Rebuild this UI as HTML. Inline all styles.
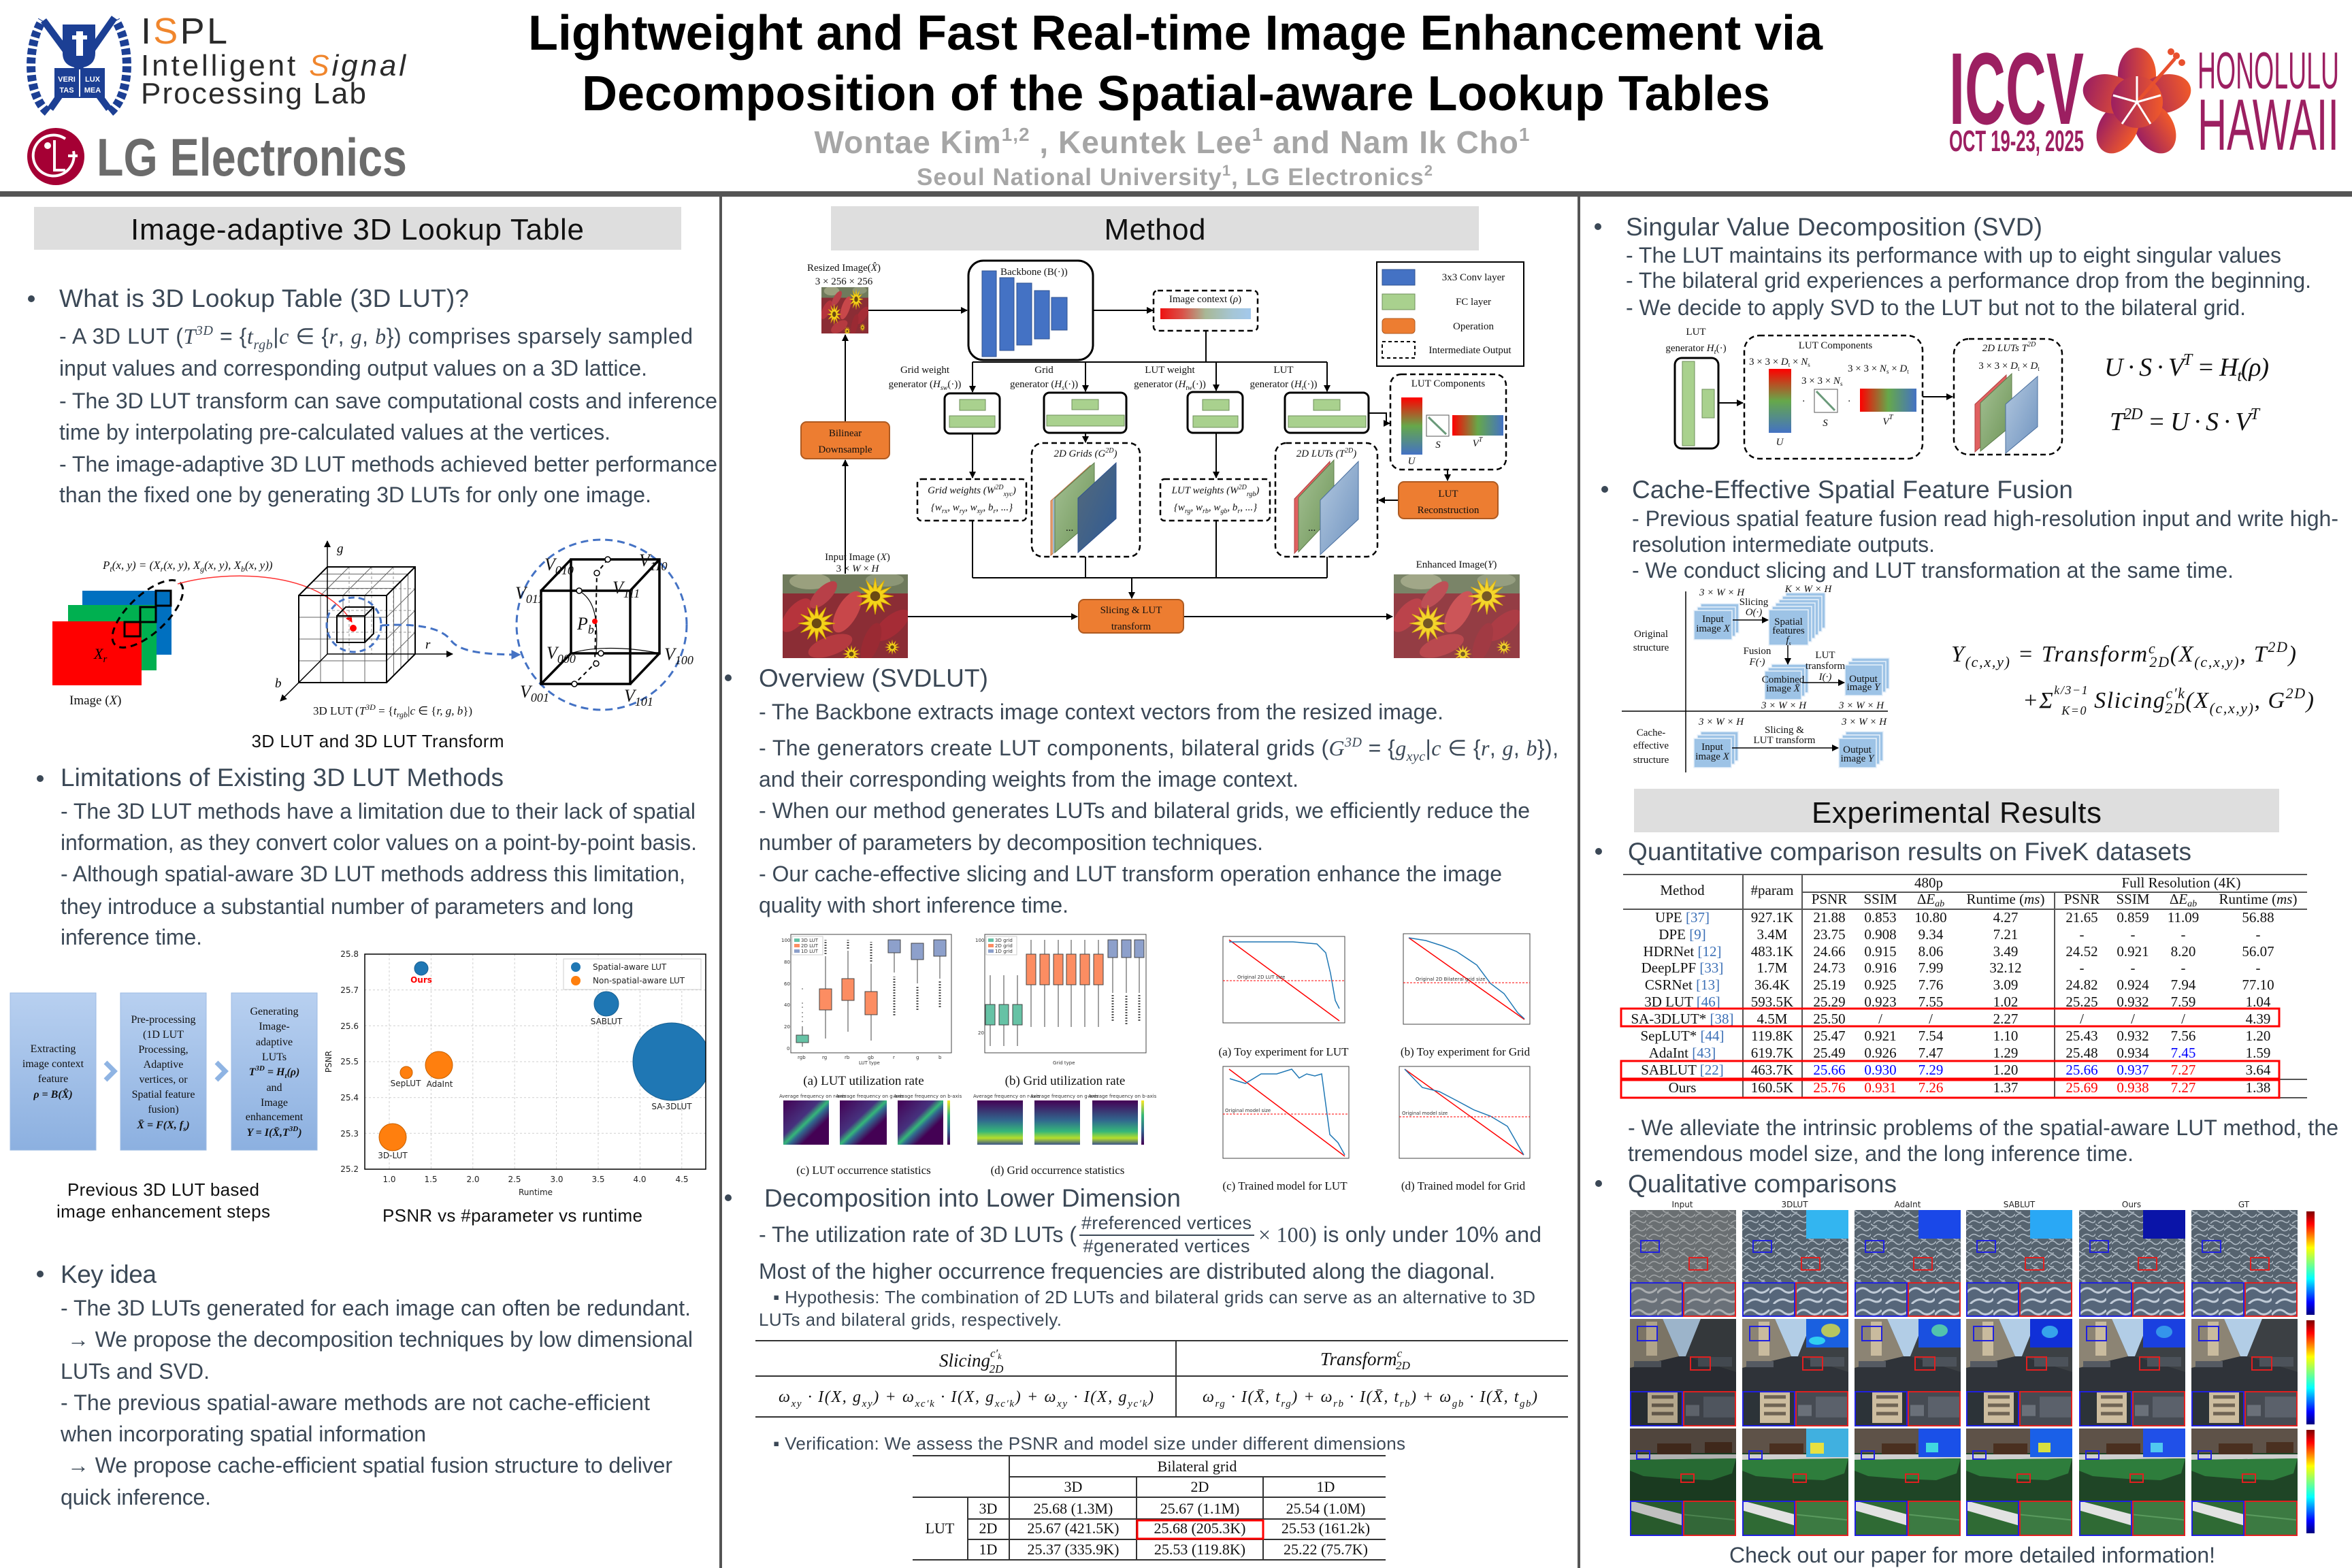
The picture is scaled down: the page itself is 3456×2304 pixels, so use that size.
<!DOCTYPE html>
<html><head><meta charset="utf-8"><title>SVDLUT Poster</title>
<style>
html,body{margin:0;padding:0;background:#fff;}
svg{display:block;font-family:"Liberation Sans",Arial,sans-serif;}
.s{font-family:"Liberation Serif","Times New Roman",serif;}
.m{font-family:"Liberation Serif","Times New Roman",serif;font-style:italic;}
.b{fill:#3b4856;font-size:32px;}
.h{fill:#3b4856;font-size:37px;}
.cap{font-size:26px;fill:#111;}
.d{font-family:"Liberation Serif","Times New Roman",serif;font-size:15px;fill:#111;}
.t{font-family:"Liberation Serif","Times New Roman",serif;font-size:21px;fill:#111;}
.tb{font-family:"Liberation Serif","Times New Roman",serif;font-size:22px;fill:#111;}
.k{font-family:"DejaVu Sans",sans-serif;font-size:12px;fill:#222;}
.tiny{font-family:"DejaVu Sans",sans-serif;font-size:7px;fill:#333;}
</style></head><body>
<svg width="3456" height="2304" viewBox="0 0 3456 2304" xmlns="http://www.w3.org/2000/svg" xmlns:xlink="http://www.w3.org/1999/xlink">
<defs>
<marker id="a" viewBox="0 0 10 10" refX="9" refY="5" markerWidth="10" markerHeight="10" markerUnits="userSpaceOnUse" orient="auto"><path d="M0,0L10,5L0,10z" fill="#000"/></marker>
<marker id="ab" viewBox="0 0 10 10" refX="9" refY="5" markerWidth="14" markerHeight="14" markerUnits="userSpaceOnUse" orient="auto"><path d="M0,0L10,5L0,10z" fill="#4472c4"/></marker>
<marker id="ar" viewBox="0 0 10 10" refX="9" refY="5" markerWidth="10" markerHeight="10" markerUnits="userSpaceOnUse" orient="auto"><path d="M0,0L10,5L0,10z" fill="#f00"/></marker>
<linearGradient id="gbox" x1="0" y1="0" x2="0" y2="1"><stop offset="0" stop-color="#b8d0f0"/><stop offset="1" stop-color="#8cb0e0"/></linearGradient>
<linearGradient id="gctx" x1="0" x2="1"><stop offset="0" stop-color="#ee1111"/><stop offset=".25" stop-color="#d9544a"/><stop offset=".5" stop-color="#a8b896"/><stop offset=".8" stop-color="#a5c6d6"/><stop offset="1" stop-color="#a3c8ec"/></linearGradient>
<linearGradient id="gu" x1="0" y1="0" x2="0" y2="1"><stop offset="0" stop-color="#ff0000"/><stop offset=".5" stop-color="#66a84a"/><stop offset="1" stop-color="#4472c4"/></linearGradient>
<linearGradient id="gv" x1="0" x2="1"><stop offset="0" stop-color="#ff0000"/><stop offset=".5" stop-color="#66a84a"/><stop offset="1" stop-color="#4472c4"/></linearGradient>
<linearGradient id="jet" x1="0" y1="0" x2="0" y2="1"><stop offset="0" stop-color="#7f0000"/><stop offset=".12" stop-color="#ff0000"/><stop offset=".35" stop-color="#ffff00"/><stop offset=".5" stop-color="#7fff7f"/><stop offset=".65" stop-color="#00ffff"/><stop offset=".88" stop-color="#0000ff"/><stop offset="1" stop-color="#00007f"/></linearGradient>
<linearGradient id="hib" x1="0" x2="1"><stop offset="0" stop-color="#9c1f61"/><stop offset="1" stop-color="#f15a29"/></linearGradient>
<linearGradient id="hc" x1="0" y1="0" x2="1" y2="1"><stop offset="0" stop-color="#440154"/><stop offset=".4" stop-color="#46327e"/><stop offset=".5" stop-color="#35b779"/><stop offset=".56" stop-color="#31688e"/><stop offset=".7" stop-color="#440154"/><stop offset="1" stop-color="#440154"/></linearGradient>
<linearGradient id="hd" x1="0" y1="0" x2="0" y2="1"><stop offset="0" stop-color="#440154"/><stop offset=".45" stop-color="#31688e"/><stop offset=".7" stop-color="#35b779"/><stop offset=".85" stop-color="#b5de2b"/><stop offset="1" stop-color="#3b528b"/></linearGradient>
<linearGradient id="vir" x1="0" y1="1" x2="0" y2="0"><stop offset="0" stop-color="#440154"/><stop offset=".33" stop-color="#31688e"/><stop offset=".66" stop-color="#35b779"/><stop offset="1" stop-color="#fde725"/></linearGradient>
<linearGradient id="pgr" x1="0" y1="0" x2="1" y2="1"><stop offset="0" stop-color="#a6c296"/><stop offset="1" stop-color="#6d9456"/></linearGradient>
<linearGradient id="pbl" x1="0" y1="0" x2="1" y2="1"><stop offset="0" stop-color="#b4c9e0"/><stop offset="1" stop-color="#6f93bf"/></linearGradient>
<linearGradient id="pdk" x1="0" y1="0" x2="1" y2="1"><stop offset="0" stop-color="#566a7a"/><stop offset="1" stop-color="#2d5a96"/></linearGradient>
<pattern id="wp" width="24" height="20" patternUnits="userSpaceOnUse"><rect width="24" height="20" fill="#56636f"/><path d="M0 10Q6 2 12 8T24 6M4 20Q10 13 16 17T24 15M0 0Q4 5 9 3" stroke="#c2ccd6" stroke-width="1.6" fill="none" opacity=".8"/></pattern>
<pattern id="wp2" width="40" height="32" patternUnits="userSpaceOnUse"><rect width="40" height="32" fill="#56667a"/><path d="M0 16Q10 4 20 12T40 9M6 32Q16 22 26 27T40 24" stroke="#d3dce6" stroke-width="3" fill="none" opacity=".85"/></pattern>
<symbol id="star" viewBox="-27 -27 54 54"><polygon points="26,0 10.6,2.8 22.5,13 7.8,7.8 13,22.5 2.8,10.6 0,26 -2.8,10.6 -13,22.5 -7.8,7.8 -22.5,13 -10.6,2.8 -26,0 -10.6,-2.8 -22.5,-13 -7.8,-7.8 -13,-22.5 -2.8,-10.6 0,-26 2.8,-10.6 13,-22.5 7.8,-7.8 22.5,-13 10.6,-2.8" fill="#f4d31a" stroke="#d9a800" stroke-width=".8"/><circle r="7" fill="#6b4a12"/></symbol>
<symbol id="flw" viewBox="0 0 184 123" preserveAspectRatio="none">
<rect width="184" height="123" fill="#8b2d35"/>
<rect width="184" height="28" fill="#6f7a5c"/>
<ellipse cx="40" cy="10" rx="30" ry="12" fill="#9aa07e"/><ellipse cx="150" cy="8" rx="28" ry="10" fill="#8c9676"/>
<ellipse cx="20" cy="60" rx="30" ry="14" transform="rotate(-50 20 60)" fill="#b6343c"/>
<ellipse cx="95" cy="55" rx="34" ry="15" transform="rotate(-60 95 55)" fill="#c8474a"/>
<ellipse cx="160" cy="75" rx="32" ry="14" transform="rotate(-40 160 75)" fill="#a52c36"/>
<ellipse cx="70" cy="105" rx="34" ry="14" transform="rotate(-20 70 105)" fill="#b53a40"/>
<ellipse cx="130" cy="100" rx="30" ry="12" transform="rotate(-70 130 100)" fill="#9a2a33"/>
<ellipse cx="60" cy="30" rx="26" ry="11" transform="rotate(-45 60 30)" fill="#b84048"/>
<use href="#star" x="22" y="44" width="56" height="56"/>
<use href="#star" x="108" y="4" width="56" height="56"/>
<use href="#star" x="88" y="104" width="26" height="26"/>
<use href="#star" x="150" y="96" width="22" height="22"/>
</symbol>
<symbol id="wm" viewBox="0 0 156 106" preserveAspectRatio="none"><rect width="156" height="106" fill="url(#wp)"/></symbol>
<symbol id="wc" viewBox="0 0 78 51" preserveAspectRatio="none"><rect width="78" height="51" fill="url(#wp2)"/></symbol>
<symbol id="sm" viewBox="0 0 156 106" preserveAspectRatio="none">
<rect width="156" height="106" fill="#33373d"/>
<polygon points="48,0 104,0 82,55 72,55" fill="#b2cde6"/>
<polygon points="0,0 48,0 72,55 0,72" fill="#8c8474"/>
<rect x="24" y="4" width="16" height="50" fill="#c9bb9e"/>
<polygon points="104,0 156,0 156,78 82,55" fill="#3c4044"/>
<polygon points="0,72 72,55 82,55 156,78 156,106 0,106" fill="#2f3339"/>
<rect x="100" y="56" width="50" height="14" fill="#4c525a"/><rect x="6" y="62" width="40" height="9" fill="#555a62"/>
</symbol>
<symbol id="sc1" viewBox="0 0 78 51" preserveAspectRatio="none"><rect width="78" height="51" fill="#2c3338"/><rect x="26" y="0" width="44" height="46" fill="#cdbd9f"/><rect x="32" y="6" width="32" height="5" fill="#6f6454"/><rect x="32" y="18" width="32" height="5" fill="#6f6454"/><rect x="32" y="30" width="32" height="5" fill="#6f6454"/></symbol>
<symbol id="sc2" viewBox="0 0 78 51" preserveAspectRatio="none"><rect width="78" height="51" fill="#464b53"/><rect x="30" y="8" width="46" height="30" fill="#5b616b"/><rect x="4" y="20" width="20" height="16" fill="#6a7079"/></symbol>
<symbol id="bm" viewBox="0 0 156 106" preserveAspectRatio="none">
<rect width="156" height="106" fill="#1f4526"/>
<rect width="156" height="36" fill="#5e5248"/>
<rect x="40" y="22" width="50" height="18" fill="#4a3020"/><rect x="110" y="20" width="40" height="16" fill="#4a3020"/>
<polygon points="0,38 156,38 156,44 0,46" fill="#cfcfcf"/>
<polygon points="0,46 156,44 150,66 120,76 70,74 20,70 0,62" fill="#2e7d3c"/>
</symbol>
<symbol id="bc1" viewBox="0 0 78 51" preserveAspectRatio="none"><rect width="78" height="51" fill="#2f6a34"/><polygon points="0,0 78,20 78,36 0,14" fill="#e2e2e2"/></symbol>
<symbol id="bc2" viewBox="0 0 78 51" preserveAspectRatio="none"><rect width="78" height="51" fill="#3c7a42"/><path d="M0 20L78 28" stroke="#5a9a5e" stroke-width="2"/></symbol>
</defs>

<rect width="3456" height="2304" fill="#fff"/>

<!-- ============ HEADER ============ -->
<g>
 <path d="M70 165 C40 140 38 70 62 30" stroke="#1c3f94" stroke-width="13" fill="none" stroke-dasharray="9 4"/>
 <path d="M162 165 C192 140 194 70 170 30" stroke="#1c3f94" stroke-width="13" fill="none" stroke-dasharray="9 4"/>
 <line x1="64" y1="30" x2="160" y2="160" stroke="#1c3f94" stroke-width="10"/>
 <line x1="168" y1="26" x2="74" y2="160" stroke="#1c3f94" stroke-width="10"/>
 <path d="M92 36 H140 V78 Q140 98 116 100 Q92 98 92 78Z" fill="#1c3f94"/>
 <path d="M112 46 H122 V82 H112Z M106 52 H128 V58 H106Z" fill="#fff"/>
 <rect x="80" y="100" width="74" height="44" fill="#1c3f94"/>
 <text x="98" y="120" font-size="11" fill="#fff" text-anchor="middle" font-weight="bold">VERI</text>
 <text x="136" y="120" font-size="11" fill="#fff" text-anchor="middle" font-weight="bold">LUX</text>
 <text x="98" y="136" font-size="11" fill="#fff" text-anchor="middle" font-weight="bold">TAS</text>
 <text x="136" y="136" font-size="11" fill="#fff" text-anchor="middle" font-weight="bold">MEA</text>
 <line x1="117" y1="102" x2="117" y2="142" stroke="#fff" stroke-width="2"/>
</g>
<text x="207" y="64" font-size="54" textLength="127"><tspan fill="#2b2b2b">I</tspan><tspan fill="#f0862d">S</tspan><tspan fill="#2b2b2b">PL</tspan></text>
<text x="207" y="111" font-size="44" fill="#2b2b2b" textLength="389">Intelligent <tspan fill="#f0862d" font-style="italic">S</tspan><tspan font-style="italic">ignal</tspan></text>
<text x="207" y="152" font-size="44" fill="#2b2b2b" textLength="331">Processing Lab</text>
<circle cx="82" cy="230" r="42" fill="#a50034"/>
<path d="M108 222 A30 30 0 1 1 96 204" stroke="#fff" stroke-width="4" fill="none"/>
<circle cx="70" cy="214" r="5" fill="#fff"/>
<path d="M80 206 V250 H96" stroke="#fff" stroke-width="4" fill="none"/>
<line x1="100" y1="229" x2="114" y2="229" stroke="#fff" stroke-width="4"/>
<text x="142" y="258" font-size="78" font-weight="bold" fill="#6b6b6b" textLength="456" lengthAdjust="spacingAndGlyphs">LG Electronics</text>

<text x="1727" y="73" font-size="72" font-weight="bold" fill="#000" text-anchor="middle" textLength="1902">Lightweight and Fast Real-time Image Enhancement via</text>
<text x="1728" y="162" font-size="72" font-weight="bold" fill="#000" text-anchor="middle" textLength="1746">Decomposition of the Spatial-aware Lookup Tables</text>
<text x="1722" y="225" font-size="46" font-weight="bold" fill="#a6a6a6" text-anchor="middle" textLength="1051">Wontae Kim<tspan font-size="28" dy="-18">1,2</tspan><tspan dy="18"> , Keuntek Lee</tspan><tspan font-size="28" dy="-18">1</tspan><tspan dy="18"> and Nam Ik Cho</tspan><tspan font-size="28" dy="-18">1</tspan></text>
<text x="1726" y="272" font-size="35" font-weight="bold" fill="#a6a6a6" text-anchor="middle" textLength="758">Seoul National University<tspan font-size="22" dy="-14">1</tspan><tspan dy="14">, LG Electronics</tspan><tspan font-size="22" dy="-14">2</tspan></text>

<text x="2864" y="182" font-size="150" font-weight="bold" fill="#9c1f61" textLength="198" lengthAdjust="spacingAndGlyphs">ICCV</text>
<text x="2864" y="222" font-size="44" font-weight="bold" fill="#9c1f61" textLength="198" lengthAdjust="spacingAndGlyphs">OCT 19-23, 2025</text>
<text x="3229" y="130" font-size="76" fill="#9c1f61" textLength="208" lengthAdjust="spacingAndGlyphs">HONOLULU</text>
<text x="3229" y="220" font-size="107" fill="#9c1f61" textLength="208" lengthAdjust="spacingAndGlyphs">HAWAII</text>
<g fill="url(#hib)">
 <ellipse cx="3140" cy="110" rx="28" ry="40"/>
 <ellipse cx="3180" cy="138" rx="40" ry="28" transform="rotate(-15 3180 138)"/>
 <ellipse cx="3166" cy="188" rx="28" ry="40" transform="rotate(-30 3166 188)"/>
 <ellipse cx="3112" cy="188" rx="28" ry="40" transform="rotate(30 3112 188)"/>
 <ellipse cx="3100" cy="138" rx="40" ry="28" transform="rotate(15 3100 138)"/>
 <circle cx="3140" cy="150" r="38"/>
</g>
<path d="M3140 150 L3196 86" stroke="#e8502e" stroke-width="5"/>
<circle cx="3198" cy="82" r="5" fill="#e8502e"/><circle cx="3206" cy="92" r="5" fill="#e8502e"/><circle cx="3190" cy="76" r="5" fill="#e8502e"/>
<path d="M3140 150 L3140 112 M3140 150 L3175 140 M3140 150 L3160 182 M3140 150 L3118 182 M3140 150 L3105 140" stroke="#fff" stroke-width="3" fill="none"/>

<rect x="0" y="281" width="3456" height="8" fill="#555"/>
<rect x="1057" y="289" width="4" height="2015" fill="#555"/>
<rect x="2318" y="289" width="4" height="2015" fill="#555"/>

<!-- ============ LEFT COLUMN ============ -->
<rect x="50" y="304" width="951" height="63" fill="#dedede"/>
<text x="525" y="352" font-size="44" fill="#111" text-anchor="middle" textLength="666">Image-adaptive 3D Lookup Table</text>

<circle cx="46" cy="439" r="5" fill="#3b4856"/>
<text class="h" x="87" y="451" textLength="602">What is 3D Lookup Table (3D LUT)?</text>
<text class="b" x="87" y="505" textLength="931">- A 3D LUT (<tspan class="m">T</tspan><tspan class="m" font-size="20" dy="-13">3D</tspan><tspan dy="13"> = {</tspan><tspan class="m">t</tspan><tspan class="m" font-size="20" dy="8">rgb</tspan><tspan dy="-8">|</tspan><tspan class="m">c</tspan> ∈ {<tspan class="m">r</tspan>, <tspan class="m">g</tspan>, <tspan class="m">b</tspan>}) comprises sparsely sampled</text>
<text class="b" x="87" y="552" textLength="864">input values and corresponding output values on a 3D lattice.</text>
<text class="b" x="87" y="600" textLength="967">- The 3D LUT transform can save computational costs and inference</text>
<text class="b" x="87" y="646" textLength="810">time by interpolating pre-calculated values at the vertices.</text>
<text class="b" x="87" y="693" textLength="967">- The image-adaptive 3D LUT methods achieved better performance</text>
<text class="b" x="87" y="738" textLength="870">than the fixed one by generating 3D LUTs for only one image.</text>

<!-- 3D LUT figure -->
<rect x="121" y="868" width="131" height="94" fill="#0070c0"/>
<rect x="100" y="889" width="130" height="96" fill="#00b050"/>
<rect x="77" y="913" width="131" height="94" fill="#ff0000"/>
<g fill="none" stroke="#000" stroke-width="3"><rect x="183" y="914" width="23" height="21"/><rect x="206" y="892" width="23" height="22"/><rect x="229" y="868" width="22" height="22"/></g>
<ellipse cx="217" cy="902" rx="66" ry="28" transform="rotate(-43 217 902)" fill="none" stroke="#000" stroke-width="3" stroke-dasharray="10 7"/>
<text class="m" x="138" y="968" font-size="22">X<tspan font-size="15" dy="5">r</tspan></text>
<text class="s" x="102" y="1035" font-size="19" fill="#111">Image (<tspan class="m">X</tspan>)</text>
<text class="m" x="151" y="836" font-size="17" fill="#111">P<tspan font-size="12" dy="4">t</tspan><tspan dy="-4">(x, y) = (X</tspan><tspan font-size="12" dy="4">r</tspan><tspan dy="-4">(x, y), X</tspan><tspan font-size="12" dy="4">g</tspan><tspan dy="-4">(x, y), X</tspan><tspan font-size="12" dy="4">b</tspan><tspan dy="-4">(x, y))</tspan></text>
<path d="M261 858 C330 838 470 836 517 914" stroke="#f33" stroke-width="1.5" fill="none" marker-end="url(#ar)"/>
<!-- grid cube -->
<g stroke="#999" stroke-width="1" fill="none" stroke-dasharray="4 3">
 <path d="M513 833V961M546 833V961M578 833V961M481 865H610M481 897H610M481 929H610"/>
</g>
<g stroke="#666" stroke-width="1" fill="none">
 <path d="M471 875V1003M504 875V1003M536 875V1003M439 907H568M439 939H568M439 971H568"/>
 <path d="M471 875L513 833M504 875L546 833M536 875L578 833M449.5 864.5H578.5M460 854H589M470.5 843.5H599.5"/>
 <path d="M568 907L610 865M568 939L610 897M568 971L610 929M578.5 864.5V992.5M589 854V982M599.5 843.5V971.5"/>
</g>
<g stroke="#000" stroke-width="2" fill="none">
 <rect x="439" y="875" width="129" height="128"/>
 <path d="M439 875L481 833H610V961L568 1003M568 875L610 833"/>
 <rect x="495" y="905" width="41" height="39"/>
 <path d="M495 905L508 892H549V931L536 944M536 905L549 892"/>
</g>
<line x1="481" y1="961" x2="481" y2="795" stroke="#000" stroke-width="1.5" marker-end="url(#a)"/>
<line x1="481" y1="961" x2="665" y2="961" stroke="#000" stroke-width="1.5" marker-end="url(#a)"/>
<line x1="481" y1="961" x2="412" y2="1030" stroke="#000" stroke-width="1.5" marker-end="url(#a)"/>
<text class="m" x="495" y="812" font-size="19">g</text>
<text class="m" x="625" y="953" font-size="19">r</text>
<text class="m" x="404" y="1010" font-size="19">b</text>
<circle cx="519" cy="923" r="5" fill="#f00"/>
<circle cx="520" cy="918" r="40" fill="none" stroke="#4472c4" stroke-width="3" stroke-dasharray="9 6"/>
<path d="M561 919 C620 915 650 925 662 940 C672 955 700 962 764 962" stroke="#4472c4" stroke-width="3" fill="none" stroke-dasharray="11 7" marker-end="url(#ab)"/>
<circle cx="884" cy="918" r="125" fill="none" stroke="#4472c4" stroke-width="3" stroke-dasharray="11 7"/>
<g stroke="#000" stroke-width="3.5" fill="none">
 <rect x="795" y="868" width="131" height="137"/>
 <rect x="839" y="822" width="130" height="138"/>
 <path d="M795 868L839 822M926 868L969 822M795 1005L839 960M926 1005L969 960"/>
</g>
<path d="M893 822L877 842L874 975L844 1005" stroke="#000" stroke-width="2" fill="none" stroke-dasharray="6 5"/>
<path d="M851 868 C870 880 880 900 876 960" stroke="#000" stroke-width="1.2" fill="none"/>
<path d="M839 960 C870 950 920 950 969 960" stroke="#000" stroke-width="1.2" fill="none"/>
<g fill="#fff" stroke="#000" stroke-width="1.5"><circle cx="893" cy="822" r="4"/><circle cx="851" cy="868" r="4"/><circle cx="877" cy="842" r="4"/><circle cx="883" cy="960" r="4"/><circle cx="876" cy="975" r="4"/><circle cx="844" cy="1005" r="4"/></g>
<circle cx="874" cy="913" r="4" fill="#f00"/>
<g class="m" font-size="26" fill="#111">
 <text x="800" y="838">V<tspan font-size="18" dy="6">010</tspan></text>
 <text x="939" y="832">V<tspan font-size="18" dy="6">110</tspan></text>
 <text x="757" y="880">V<tspan font-size="18" dy="6">011</tspan></text>
 <text x="900" y="872">V<tspan font-size="18" dy="6">111</tspan></text>
 <text x="848" y="925">P<tspan font-size="18" dy="6">b</tspan></text>
 <text x="803" y="968">V<tspan font-size="18" dy="6">000</tspan></text>
 <text x="976" y="970">V<tspan font-size="18" dy="6">100</tspan></text>
 <text x="764" y="1025">V<tspan font-size="18" dy="6">001</tspan></text>
 <text x="917" y="1031">V<tspan font-size="18" dy="6">101</tspan></text>
</g>
<text class="s" x="460" y="1050" font-size="17" fill="#111">3D LUT (<tspan class="m">T</tspan><tspan class="m" font-size="12" dy="-7">3D</tspan><tspan dy="7"> = {</tspan><tspan class="m">t</tspan><tspan class="m" font-size="12" dy="4">rgb</tspan><tspan dy="-4">|</tspan><tspan class="m">c</tspan> ∈ {<tspan class="m">r, g, b</tspan>})</text>
<text class="cap" x="555" y="1098" text-anchor="middle" textLength="371">3D LUT and 3D LUT Transform</text>

<circle cx="59" cy="1144" r="5" fill="#3b4856"/>
<text class="h" x="89" y="1155" textLength="651">Limitations of Existing 3D LUT Methods</text>
<text class="b" x="89" y="1203" textLength="933">- The 3D LUT methods have a limitation due to their lack of spatial</text>
<text class="b" x="89" y="1249" textLength="935">information, as they convert color values on a point-by-point basis.</text>
<text class="b" x="89" y="1295" textLength="918">- Although spatial-aware 3D LUT methods address this limitation,</text>
<text class="b" x="89" y="1343" textLength="842">they introduce a substantial number of parameters and long</text>
<text class="b" x="89" y="1388" textLength="208">inference time.</text>

<!-- flow boxes -->
<rect x="15" y="1459" width="126" height="231" fill="url(#gbox)" stroke="#9dbbe3"/>
<rect x="177" y="1459" width="126" height="231" fill="url(#gbox)" stroke="#9dbbe3"/>
<rect x="340" y="1459" width="126" height="231" fill="url(#gbox)" stroke="#9dbbe3"/>
<path d="M155 1561 L168 1574 L155 1587" stroke="#8fb4e3" stroke-width="7" fill="none"/>
<path d="M318 1561 L331 1574 L318 1587" stroke="#8fb4e3" stroke-width="7" fill="none"/>
<g class="s" font-size="16" fill="#111" text-anchor="middle">
 <text x="78" y="1546">Extracting</text><text x="78" y="1568">image context</text><text x="78" y="1590">feature</text>
 <text x="78" y="1613" font-weight="bold" font-style="italic">ρ = B(X̂)</text>
 <text x="240" y="1503">Pre-processing</text><text x="240" y="1525">(1D LUT</text><text x="240" y="1547">Processing,</text><text x="240" y="1569">Adaptive</text><text x="240" y="1591">vertices, or</text><text x="240" y="1613">Spatial feature</text><text x="240" y="1635">fusion)</text>
 <text x="240" y="1658" font-weight="bold" font-style="italic">X̄ = F(X, f<tspan font-size="11" dy="4">s</tspan><tspan dy="-4">)</tspan></text>
 <text x="403" y="1491">Generating</text><text x="403" y="1513">Image-</text><text x="403" y="1536">adaptive</text><text x="403" y="1558">LUTs</text>
 <text x="403" y="1580" font-weight="bold" font-style="italic">T<tspan font-size="11" dy="-7">3D</tspan><tspan dy="7"> = H</tspan><tspan font-size="11" dy="4">t</tspan><tspan dy="-4">(ρ)</tspan></text>
 <text x="403" y="1603">and</text><text x="403" y="1625">Image</text><text x="403" y="1646">enhancement</text>
 <text x="403" y="1669" font-weight="bold" font-style="italic">Y = I(X̄,T<tspan font-size="11" dy="-7">3D</tspan><tspan dy="7">)</tspan></text>
</g>
<text class="cap" x="240" y="1757" text-anchor="middle" textLength="282">Previous 3D LUT based</text>
<text class="cap" x="240" y="1789" text-anchor="middle" textLength="314">image enhancement steps</text>

<!-- scatter -->
<g stroke="#cfcfcf" stroke-width="1" stroke-dasharray="3 3">
 <path d="M572 1402V1718M633.4 1402V1718M694.8 1402V1718M756.2 1402V1718M817.6 1402V1718M879 1402V1718M940.4 1402V1718M1001.8 1402V1718"/>
 <path d="M536 1454.6H1037M536 1507.3H1037M536 1560H1037M536 1612.7H1037M536 1665.3H1037"/>
</g>
<clipPath id="sc"><rect x="536" y="1402" width="501" height="316"/></clipPath>
<g clip-path="url(#sc)">
 <circle cx="987" cy="1560" r="57" fill="#1f77b4" stroke="#185f90"/>
 <circle cx="891" cy="1475" r="18" fill="#1f77b4" stroke="#185f90"/>
 <circle cx="619" cy="1423" r="10" fill="#1f77b4" stroke="#185f90"/>
 <circle cx="645" cy="1565" r="20" fill="#ff7f0e" stroke="#c86000"/>
 <circle cx="597" cy="1576" r="9" fill="#ff7f0e" stroke="#c86000"/>
 <circle cx="577" cy="1671" r="20" fill="#ff7f0e" stroke="#c86000"/>
</g>
<rect x="536" y="1402" width="501" height="316" fill="none" stroke="#000" stroke-width="1.5"/>
<g class="k" text-anchor="end">
 <text x="527" y="1406">25.8</text><text x="527" y="1459">25.7</text><text x="527" y="1512">25.6</text><text x="527" y="1564">25.5</text><text x="527" y="1617">25.4</text><text x="527" y="1670">25.3</text><text x="527" y="1722">25.2</text>
</g>
<g class="k" text-anchor="middle">
 <text x="572" y="1737">1.0</text><text x="633" y="1737">1.5</text><text x="695" y="1737">2.0</text><text x="756" y="1737">2.5</text><text x="818" y="1737">3.0</text><text x="879" y="1737">3.5</text><text x="940" y="1737">4.0</text><text x="1002" y="1737">4.5</text>
 <text x="787" y="1756">Runtime</text>
 <text x="619" y="1444" fill="#f00" font-weight="bold">Ours</text>
 <text x="891" y="1505">SABLUT</text>
 <text x="987" y="1630">SA-3DLUT</text>
 <text x="596" y="1596">SepLUT</text>
 <text x="646" y="1597">AdaInt</text>
 <text x="577" y="1702">3D-LUT</text>
</g>
<text class="k" x="487" y="1560" text-anchor="middle" transform="rotate(-90 487 1560)">PSNR</text>
<rect x="828" y="1409" width="202" height="45" fill="#fff" stroke="#ccc"/>
<circle cx="846" cy="1421" r="7" fill="#1f77b4"/><circle cx="846" cy="1441" r="7" fill="#ff7f0e"/>
<text class="k" x="871" y="1425">Spatial-aware LUT</text><text class="k" x="871" y="1445">Non-spatial-aware LUT</text>
<text class="cap" x="753" y="1795" text-anchor="middle" textLength="382">PSNR vs #parameter vs runtime</text>

<circle cx="59" cy="1872" r="5" fill="#3b4856"/>
<text class="h" x="89" y="1885" textLength="141">Key idea</text>
<text class="b" x="89" y="1933" textLength="926">- The 3D LUTs generated for each image can often be redundant.</text>
<text class="b" x="99" y="1979" textLength="919">→ We propose the decomposition techniques by low dimensional</text>
<text class="b" x="89" y="2026" textLength="219">LUTs and SVD.</text>
<text class="b" x="89" y="2072" textLength="866">-  The previous spatial-aware methods are not cache-efficient</text>
<text class="b" x="89" y="2118" textLength="537">when incorporating spatial information</text>
<text class="b" x="99" y="2164" textLength="889">→ We propose cache-efficient spatial fusion structure to deliver</text>
<text class="b" x="89" y="2211" textLength="221">quick inference.</text>

<!-- ============ MIDDLE COLUMN ============ -->
<rect x="1221" y="303" width="952" height="65" fill="#dedede"/>
<text x="1697" y="352" font-size="44" fill="#111" text-anchor="middle" textLength="149">Method</text>

<!-- diagram -->
<text class="d" x="1240" y="398" text-anchor="middle">Resized Image(<tspan font-style="italic">X̂</tspan>)</text>
<text class="d" x="1240" y="418" text-anchor="middle">3 × 256 × 256</text>
<use href="#flw" x="1207" y="422" width="69" height="68"/>
<rect x="1423" y="383" width="183" height="146" rx="22" fill="#fff" stroke="#000" stroke-width="3"/>
<text class="d" x="1470" y="404">Backbone (B(·))</text>
<g fill="#4472c4" stroke="#2f528f" stroke-width="1">
 <rect x="1443" y="398" width="21" height="126"/><rect x="1469" y="408" width="21" height="107"/><rect x="1494" y="416" width="22" height="91"/><rect x="1520" y="427" width="22" height="71"/><rect x="1545" y="437" width="23" height="48"/>
</g>
<line x1="1276" y1="456" x2="1421" y2="456" stroke="#000" stroke-width="2" marker-end="url(#a)"/>
<line x1="1606" y1="456" x2="1694" y2="456" stroke="#000" stroke-width="2" marker-end="url(#a)"/>
<rect x="1695" y="427" width="153" height="59" rx="6" fill="none" stroke="#000" stroke-width="2.5" stroke-dasharray="8 5"/>
<text class="d" x="1771" y="444" text-anchor="middle" font-size="14">Image context (<tspan font-style="italic">ρ</tspan>)</text>
<rect x="1705" y="453" width="133" height="16" fill="url(#gctx)"/>
<path d="M1772 486V532M1429 532H1950" stroke="#000" stroke-width="2" fill="none"/>
<g stroke="#000" stroke-width="2"><line x1="1429" y1="532" x2="1429" y2="576" marker-end="url(#a)"/><line x1="1595" y1="532" x2="1595" y2="575" marker-end="url(#a)"/><line x1="1787" y1="532" x2="1787" y2="574" marker-end="url(#a)"/><line x1="1950" y1="532" x2="1950" y2="575" marker-end="url(#a)"/></g>
<g class="d" text-anchor="middle" font-size="14">
 <text x="1359" y="548">Grid weight</text><text x="1359" y="569">generator (<tspan font-style="italic">H</tspan><tspan font-size="10" dy="4" font-style="italic">sw</tspan><tspan dy="-4">(·))</tspan></text>
 <text x="1534" y="548">Grid</text><text x="1534" y="569">generator (<tspan font-style="italic">H</tspan><tspan font-size="10" dy="4" font-style="italic">s</tspan><tspan dy="-4">(·))</tspan></text>
 <text x="1719" y="548">LUT weight</text><text x="1719" y="569">generator (<tspan font-style="italic">H</tspan><tspan font-size="10" dy="4" font-style="italic">tw</tspan><tspan dy="-4">(·))</tspan></text>
 <text x="1886" y="548">LUT</text><text x="1886" y="569">generator (<tspan font-style="italic">H</tspan><tspan font-size="10" dy="4" font-style="italic">t</tspan><tspan dy="-4">(·))</tspan></text>
</g>
<g fill="#fff" stroke="#000" stroke-width="3">
 <rect x="1388" y="578" width="81" height="59" rx="8"/><rect x="1534" y="577" width="121" height="59" rx="8"/><rect x="1745" y="576" width="81" height="60" rx="8"/><rect x="1888" y="577" width="123" height="59" rx="8"/>
</g>
<g fill="#a9d18e" stroke="#6e8f5a" stroke-width="1">
 <rect x="1410" y="587" width="38" height="16"/><rect x="1395" y="611" width="67" height="17"/>
 <rect x="1575" y="587" width="39" height="15"/><rect x="1538" y="610" width="114" height="16"/>
 <rect x="1767" y="587" width="39" height="16"/><rect x="1753" y="611" width="66" height="17"/>
 <rect x="1930" y="587" width="39" height="16"/><rect x="1893" y="611" width="114" height="17"/>
</g>
<g stroke="#000" stroke-width="2" fill="none">
 <line x1="1429" y1="637" x2="1429" y2="702" marker-end="url(#a)"/>
 <line x1="1595" y1="636" x2="1595" y2="650" marker-end="url(#a)"/>
 <line x1="1787" y1="636" x2="1787" y2="702" marker-end="url(#a)"/>
 <polyline points="2011,607 2037,607 2037,622 2042,622" marker-end="url(#a)"/>
 <line x1="2127" y1="690" x2="2127" y2="706" marker-end="url(#a)"/>
 <line x1="2055" y1="735" x2="2026" y2="735" marker-end="url(#a)"/>
 <path d="M1429 765V849M1595 818V849M1787 765V849M1950 818V849M1429 849H1950"/>
 <line x1="1663" y1="849" x2="1663" y2="879" marker-end="url(#a)"/>
 <line x1="1334" y1="906" x2="1583" y2="906" marker-end="url(#a)"/>
 <line x1="1739" y1="906" x2="2046" y2="906" marker-end="url(#a)"/>
 <line x1="1242" y1="843" x2="1242" y2="676" marker-end="url(#a)"/>
 <line x1="1242" y1="620" x2="1242" y2="492" marker-end="url(#a)"/>
</g>
<g fill="none" stroke="#000" stroke-width="2.5" stroke-dasharray="8 5">
 <rect x="1348" y="704" width="160" height="61" rx="6"/>
 <rect x="1516" y="651" width="159" height="167" rx="16"/>
 <rect x="1705" y="704" width="161" height="61" rx="6"/>
 <rect x="1874" y="651" width="150" height="167" rx="16"/>
 <rect x="2043" y="550" width="170" height="140" rx="16"/>
</g>
<g class="d" text-anchor="middle" font-style="italic" font-size="14">
 <text x="1428" y="725">Grid weights (W<tspan font-size="10" dy="-6">2D</tspan><tspan font-size="10" dy="10">xyc</tspan><tspan dy="-4">)</tspan></text>
 <text x="1428" y="750">{w<tspan font-size="10" dy="4">rx</tspan><tspan dy="-4">, w</tspan><tspan font-size="10" dy="4">ry</tspan><tspan dy="-4">, w</tspan><tspan font-size="10" dy="4">xy</tspan><tspan dy="-4">, b</tspan><tspan font-size="10" dy="4">r</tspan><tspan dy="-4">, ...}</tspan></text>
 <text x="1786" y="725">LUT weights (W<tspan font-size="10" dy="-6">2D</tspan><tspan font-size="10" dy="10">rgb</tspan><tspan dy="-4">)</tspan></text>
 <text x="1786" y="750">{w<tspan font-size="10" dy="4">rg</tspan><tspan dy="-4">, w</tspan><tspan font-size="10" dy="4">rb</tspan><tspan dy="-4">, w</tspan><tspan font-size="10" dy="4">gb</tspan><tspan dy="-4">, b</tspan><tspan font-size="10" dy="4">r</tspan><tspan dy="-4">, ...}</tspan></text>
 <text x="1595" y="671">2D Grids (G<tspan font-size="10" dy="-6">2D</tspan><tspan dy="6">)</tspan></text>
 <text x="1949" y="671">2D LUTs (T<tspan font-size="10" dy="-6">2D</tspan><tspan dy="6">)</tspan></text>
</g>
<polygon points="1544,736 1602,684 1602,766 1544,816" fill="#e8a070" stroke="#c07040"/>
<polygon points="1547,734 1605,682 1605,764 1547,814" fill="#9fb8cc"/>
<polygon points="1550,732 1608,680 1608,762 1550,812" fill="url(#pgr)" stroke="#5d7d4a"/>
<polygon points="1584,732 1640,680 1640,762 1584,812" fill="url(#pdk)" stroke="#2f528f"/>
<text class="d" x="1566" y="780" font-size="10">...</text>
<polygon points="1902,733 1954,678 1954,758 1902,813" fill="#e06060" stroke="#b04040"/>
<polygon points="1908,731 1960,676 1960,756 1908,811" fill="url(#pgr)" stroke="#5d7d4a"/>
<polygon points="1940,735 1996,678 1996,763 1940,815" fill="url(#pbl)" stroke="#4a6f9f"/>
<text class="d" x="1922" y="780" font-size="10">...</text>
<text class="d" x="2128" y="568" text-anchor="middle" font-size="14">LUT Components</text>
<rect x="2059" y="584" width="31" height="84" fill="url(#gu)"/>
<rect x="2096" y="610" width="33" height="31" fill="#fff" stroke="#555"/>
<line x1="2099" y1="613" x2="2125" y2="638" stroke="#6a9a7a" stroke-width="3"/>
<rect x="2134" y="610" width="75" height="30" fill="url(#gv)"/>
<g class="d" font-style="italic" font-size="16" text-anchor="middle"><text x="2074" y="682">U</text><text x="2113" y="658">S</text><text x="2171" y="656">V<tspan font-size="10" dy="-7">T</tspan></text></g>
<g fill="#ed7d31" stroke="#ae5a21" stroke-width="2">
 <rect x="2055" y="708" width="146" height="54" rx="8"/>
 <rect x="1177" y="620" width="130" height="54" rx="8"/>
 <rect x="1585" y="881" width="154" height="49" rx="8"/>
</g>
<g class="d" text-anchor="middle" font-size="17">
 <text x="2128" y="730">LUT</text><text x="2128" y="754">Reconstruction</text>
 <text x="1242" y="641">Bilinear</text><text x="1242" y="665">Downsample</text>
 <text x="1662" y="901">Slicing &amp; LUT</text><text x="1662" y="925">transform</text>
</g>
<text class="d" x="1260" y="823" text-anchor="middle">Input Image (<tspan font-style="italic">X</tspan>)</text>
<text class="d" x="1260" y="840" text-anchor="middle">3 × <tspan font-style="italic">W</tspan> × <tspan font-style="italic">H</tspan></text>
<text class="d" x="2140" y="834" text-anchor="middle">Enhanced Image(<tspan font-style="italic">Y</tspan>)</text>
<use href="#flw" x="1150" y="844" width="184" height="123"/>
<use href="#flw" x="2048" y="844" width="185" height="123"/>
<rect x="2048" y="844" width="185" height="123" fill="#fff" opacity=".08"/>
<!-- legend -->
<rect x="2023" y="385" width="216" height="153" fill="#fff" stroke="#000" stroke-width="2"/>
<rect x="2031" y="396" width="48" height="23" fill="#4472c4" stroke="#2f528f"/>
<rect x="2031" y="432" width="48" height="23" fill="#a9d18e" stroke="#6e8f5a"/>
<rect x="2031" y="468" width="48" height="22" rx="5" fill="#ed7d31" stroke="#ae5a21"/>
<rect x="2031" y="502" width="48" height="24" fill="none" stroke="#000" stroke-width="2" stroke-dasharray="5 4"/>
<g class="d" text-anchor="middle" font-size="14"><text x="2165" y="412">3x3 Conv layer</text><text x="2165" y="448">FC layer</text><text x="2165" y="484">Operation</text><text x="2160" y="519">Intermediate Output</text></g>

<!-- Overview -->
<circle cx="1070" cy="996" r="5" fill="#3b4856"/>
<text class="h" x="1115" y="1009" font-size="36" textLength="337">Overview (SVDLUT)</text>
<text class="b" x="1115" y="1057" textLength="1006">- The Backbone extracts image context vectors from the resized image.</text>
<text class="b" x="1115" y="1110" textLength="1175">- The generators create LUT components, bilateral grids (<tspan class="m">G</tspan><tspan class="m" font-size="20" dy="-13">3D</tspan><tspan dy="13"> = {</tspan><tspan class="m">g</tspan><tspan class="m" font-size="20" dy="8">xyc</tspan><tspan dy="-8">|</tspan><tspan class="m">c</tspan> ∈ {<tspan class="m">r</tspan>, <tspan class="m">g</tspan>, <tspan class="m">b</tspan>}),</text>
<text class="b" x="1115" y="1156" textLength="793">and their corresponding weights from the image context.</text>
<text class="b" x="1115" y="1202" textLength="1133">- When our method generates LUTs and bilateral grids, we efficiently reduce the</text>
<text class="b" x="1115" y="1249" textLength="741">number of parameters by decomposition techniques.</text>
<text class="b" x="1115" y="1295" textLength="1092">- Our cache-effective slicing and LUT transform operation enhance the image</text>
<text class="b" x="1115" y="1341" textLength="455">quality with short inference time.</text>

<!-- (a) LUT utilization box plot -->
<rect x="1162" y="1373" width="236" height="174" fill="#fff" stroke="#444"/>
<g stroke="#444" stroke-width="1">
 <path d="M1179 1538V1532M1179 1521V1508M1213 1526V1484M1213 1453V1405M1246 1516V1470M1246 1438V1397M1280 1529V1491M1280 1457V1416M1314 1429V1400M1348 1445V1410M1381 1438V1405"/>
</g>
<g stroke="#444" stroke-width="1">
 <rect x="1170" y="1521" width="18" height="11" fill="#66c2a5"/>
 <rect x="1204" y="1453" width="18" height="31" fill="#fc8d62"/>
 <rect x="1237" y="1438" width="18" height="32" fill="#fc8d62"/>
 <rect x="1271" y="1457" width="18" height="34" fill="#fc8d62"/>
 <rect x="1305" y="1381" width="18" height="19" fill="#8da0cb"/>
 <rect x="1339" y="1386" width="18" height="24" fill="#8da0cb"/>
 <rect x="1372" y="1381" width="18" height="24" fill="#8da0cb"/>
</g>
<g fill="none" stroke="#555" stroke-width="1">
 <path d="M1179 1502v-2M1179 1495v-2M1179 1489v-2M1179 1481v-2M1179 1475v-2M1179 1454v-2"/>
 <path d="M1213 1402V1381M1246 1394V1381M1280 1413V1384M1314 1492V1435M1348 1484V1448M1381 1480V1441" stroke-dasharray="2 2" stroke-width="3"/>
</g>
<rect x="1164" y="1376" width="45" height="27" fill="#fff" stroke="#ccc"/>
<rect x="1167" y="1379" width="8" height="5" fill="#66c2a5"/><rect x="1167" y="1387" width="8" height="5" fill="#fc8d62"/><rect x="1167" y="1395" width="8" height="5" fill="#8da0cb"/>
<g class="tiny"><text x="1177" y="1384">3D LUT</text><text x="1177" y="1392">2D LUT</text><text x="1177" y="1400">1D LUT</text>
<text x="1172" y="1556">rgb</text><text x="1208" y="1556">rg</text><text x="1241" y="1556">rb</text><text x="1275" y="1556">gb</text><text x="1312" y="1556">r</text><text x="1346" y="1556">g</text><text x="1379" y="1556">b</text><text x="1262" y="1564">LUT type</text>
<text x="1148" y="1384">100</text><text x="1152" y="1416">80</text><text x="1152" y="1448">60</text><text x="1152" y="1479">40</text><text x="1152" y="1511">20</text><text x="1156" y="1543">0</text></g>
<!-- (b) Grid utilization -->
<rect x="1447" y="1373" width="237" height="174" fill="#fff" stroke="#444"/>
<g stroke="#444" stroke-width="1">
 <path d="M1455 1537V1506M1455 1476V1433M1475 1537V1506M1475 1476V1433M1495 1537V1506M1495 1476V1433"/>
 <path d="M1515 1509V1447M1535 1509V1447M1555 1509V1447M1574 1509V1447M1594 1509V1447M1614 1509V1447M1515 1402V1381M1535 1402V1381M1555 1402V1381M1574 1402V1381M1594 1402V1381M1614 1402V1381"/>
 <path d="M1635 1459V1407M1655 1459V1407M1674 1459V1407"/>
 <g fill="#66c2a5"><rect x="1448" y="1476" width="14" height="30"/><rect x="1468" y="1476" width="14" height="30"/><rect x="1488" y="1476" width="14" height="30"/></g>
 <g fill="#fc8d62"><rect x="1508" y="1402" width="14" height="45"/><rect x="1528" y="1402" width="14" height="45"/><rect x="1548" y="1402" width="14" height="45"/><rect x="1567" y="1402" width="14" height="45"/><rect x="1587" y="1402" width="14" height="45"/><rect x="1607" y="1402" width="14" height="45"/></g>
 <g fill="#8da0cb"><rect x="1628" y="1381" width="14" height="26"/><rect x="1648" y="1381" width="14" height="26"/><rect x="1667" y="1381" width="14" height="26"/></g>
</g>
<path d="M1635 1500V1462M1655 1505V1462M1674 1500V1462" stroke="#555" stroke-width="3" stroke-dasharray="2 2"/>
<rect x="1449" y="1376" width="45" height="27" fill="#fff" stroke="#ccc"/>
<rect x="1452" y="1379" width="8" height="5" fill="#66c2a5"/><rect x="1452" y="1387" width="8" height="5" fill="#fc8d62"/><rect x="1452" y="1395" width="8" height="5" fill="#8da0cb"/>
<g class="tiny"><text x="1462" y="1384">3D grid</text><text x="1462" y="1392">2D grid</text><text x="1462" y="1400">1D grid</text><text x="1547" y="1564">Grid type</text>
<text x="1433" y="1384">100</text><text x="1437" y="1520">20</text></g>
<g class="s" font-size="19" fill="#111" text-anchor="middle"><text x="1269" y="1594">(a) LUT utilization rate</text><text x="1565" y="1594">(b) Grid utilization rate</text>
<text x="1269" y="1725" font-size="17">(c) LUT occurrence statistics</text><text x="1554" y="1725" font-size="17">(d) Grid occurrence statistics</text></g>
<!-- heatmaps -->
<g><rect x="1151" y="1617" width="67" height="65" fill="url(#hc)"/><rect x="1234" y="1617" width="69" height="65" fill="url(#hc)"/><rect x="1319" y="1617" width="67" height="65" fill="url(#hc)"/><rect x="1392" y="1617" width="4" height="65" fill="url(#vir)"/>
<rect x="1436" y="1617" width="67" height="65" fill="url(#hd)"/><rect x="1520" y="1617" width="67" height="65" fill="url(#hd)"/><rect x="1605" y="1617" width="67" height="65" fill="url(#hd)"/><rect x="1677" y="1617" width="4" height="65" fill="url(#vir)"/></g>
<g class="tiny" font-size="5"><text x="1145" y="1613">Average frequency on r-axis</text><text x="1228" y="1613">Average frequency on g-axis</text><text x="1313" y="1613">Average frequency on b-axis</text><text x="1430" y="1613">Average frequency on r-axis</text><text x="1514" y="1613">Average frequency on g-axis</text><text x="1599" y="1613">Average frequency on b-axis</text></g>
<!-- line charts -->
<g fill="none" stroke="#444" stroke-width="1">
 <rect x="1797" y="1376" width="179" height="127"/><rect x="2062" y="1372" width="186" height="133"/><rect x="1797" y="1567" width="185" height="135"/><rect x="2056" y="1567" width="192" height="135"/>
</g>
<g fill="none" stroke-width="1.5">
 <polyline stroke="#f00" points="1806,1381 1968,1500"/>
 <polyline stroke="#1f77b4" points="1806,1384 1900,1384 1935,1387 1948,1400 1955,1430 1962,1470 1968,1482"/>
 <line x1="1797" y1="1441" x2="1976" y2="1441" stroke="#f00" stroke-width="1" stroke-dasharray="3 2"/>
 <polyline stroke="#f00" points="2070,1378 2240,1498"/>
 <polyline stroke="#1f77b4" points="2070,1378 2095,1382 2120,1390 2140,1398 2170,1418 2190,1445 2210,1460 2230,1488 2240,1497"/>
 <line x1="2062" y1="1444" x2="2248" y2="1444" stroke="#f00" stroke-width="1" stroke-dasharray="3 2"/>
 <polyline stroke="#f00" points="1806,1571 1976,1699"/>
 <polyline stroke="#1f77b4" points="1807,1585 1830,1592 1853,1578 1876,1578 1898,1571 1909,1584 1920,1578 1932,1581 1942,1578 1954,1667 1966,1679 1976,1697"/>
 <line x1="1797" y1="1637" x2="1982" y2="1637" stroke="#f00" stroke-width="1" stroke-dasharray="3 2"/>
 <polyline stroke="#f00" points="2064,1571 2239,1697"/>
 <polyline stroke="#1f77b4" points="2064,1571 2090,1598 2115,1604 2140,1617 2166,1631 2190,1640 2215,1655 2239,1697"/>
 <line x1="2056" y1="1641" x2="2248" y2="1641" stroke="#f00" stroke-width="1" stroke-dasharray="3 2"/>
</g>
<g class="tiny" fill="#f00" font-size="8"><text x="1818" y="1438">Original 2D LUT size</text><text x="2080" y="1441">Original 2D Bilateral grid size</text><text x="1800" y="1634">Original model size</text><text x="2060" y="1638">Original model size</text></g>
<g class="s" font-size="17" fill="#111" text-anchor="middle"><text x="1886" y="1551">(a) Toy experiment for LUT</text><text x="2153" y="1551">(b) Toy experiment for Grid</text><text x="1888" y="1748">(c) Trained model for LUT</text><text x="2150" y="1748">(d) Trained model for Grid</text></g>

<!-- Decomposition -->
<circle cx="1070" cy="1760" r="5" fill="#3b4856"/>
<text class="h" x="1123" y="1773" textLength="612">Decomposition into Lower Dimension</text>
<text class="b" x="1115" y="1825" textLength="467">- The utilization rate of 3D LUTs (</text>
<text x="1714" y="1806" font-size="27" fill="#3b4856" text-anchor="middle" textLength="250">#referenced vertices</text>
<line x1="1586" y1="1815" x2="1843" y2="1815" stroke="#3b4856" stroke-width="2"/>
<text x="1714" y="1840" font-size="27" fill="#3b4856" text-anchor="middle" textLength="245">#generated vertices</text>
<text class="b" x="1849" y="1825" textLength="416"><tspan class="s">× 100)</tspan> is only under 10% and</text>
<text class="b" x="1115" y="1879" textLength="1082">Most of the higher occurrence frequencies are distributed along the diagonal.</text>
<text x="1136" y="1915" font-size="26" fill="#3b4856" textLength="1120">▪ Hypothesis: The combination of 2D LUTs and bilateral grids can serve as an alternative to 3D</text>
<text x="1115" y="1948" font-size="26" fill="#3b4856" textLength="445">LUTs and bilateral grids, respectively.</text>
<g stroke="#333" stroke-width="2"><line x1="1110" y1="1970" x2="2304" y2="1970"/><line x1="1110" y1="2022" x2="2304" y2="2022"/><line x1="1110" y1="2082" x2="2304" y2="2082"/><line x1="1728" y1="1970" x2="1728" y2="2082"/></g>
<text class="m" x="1380" y="2008" font-size="27" fill="#111">Slicing<tspan font-size="17" dy="-14">c′</tspan><tspan font-size="12" dy="3">k</tspan><tspan font-size="17" dx="-18" dy="20">2D</tspan></text>
<text class="m" x="1940" y="2006" font-size="27" fill="#111">Transform<tspan font-size="17" dy="-12">c</tspan><tspan font-size="17" dx="-9" dy="18">2D</tspan></text>
<text class="m" x="1144" y="2060" font-size="24" fill="#111" textLength="551">ω<tspan font-size="15" dy="7">xy</tspan><tspan dy="-7"> · I(X, g</tspan><tspan font-size="15" dy="7">xy</tspan><tspan dy="-7">) + ω</tspan><tspan font-size="15" dy="7">xc′k</tspan><tspan dy="-7"> · I(X, g</tspan><tspan font-size="15" dy="7">xc′k</tspan><tspan dy="-7">) + ω</tspan><tspan font-size="15" dy="7">xy</tspan><tspan dy="-7"> · I(X, g</tspan><tspan font-size="15" dy="7">yc′k</tspan><tspan dy="-7">)</tspan></text>
<text class="m" x="1767" y="2060" font-size="24" fill="#111" textLength="492">ω<tspan font-size="15" dy="7">rg</tspan><tspan dy="-7"> · I(X̄, t</tspan><tspan font-size="15" dy="7">rg</tspan><tspan dy="-7">) + ω</tspan><tspan font-size="15" dy="7">rb</tspan><tspan dy="-7"> · I(X̄, t</tspan><tspan font-size="15" dy="7">rb</tspan><tspan dy="-7">) + ω</tspan><tspan font-size="15" dy="7">gb</tspan><tspan dy="-7"> · I(X̄, t</tspan><tspan font-size="15" dy="7">gb</tspan><tspan dy="-7">)</tspan></text>
<text x="1136" y="2130" font-size="26" fill="#3b4856" textLength="929">▪ Verification: We assess the PSNR and model size under different dimensions</text>
<!-- small table -->
<g stroke="#333" stroke-width="2">
 <line x1="1341" y1="2139" x2="2036" y2="2139"/><line x1="1483" y1="2170" x2="2036" y2="2170"/><line x1="1341" y1="2200" x2="2036" y2="2200"/>
 <line x1="1422" y1="2232" x2="2036" y2="2232"/><line x1="1422" y1="2262" x2="2036" y2="2262"/><line x1="1341" y1="2292" x2="2036" y2="2292"/>
 <line x1="1483" y1="2139" x2="1483" y2="2292"/><line x1="1670" y1="2170" x2="1670" y2="2292"/><line x1="1856" y1="2170" x2="1856" y2="2292"/><line x1="1422" y1="2200" x2="1422" y2="2292"/>
</g>
<g class="tb" text-anchor="middle">
 <text x="1759" y="2162">Bilateral grid</text>
 <text x="1577" y="2192">3D</text><text x="1763" y="2192">2D</text><text x="1948" y="2192">1D</text>
 <text x="1381" y="2253">LUT</text>
 <text x="1452" y="2224">3D</text><text x="1452" y="2253">2D</text><text x="1452" y="2284">1D</text>
 <text x="1577" y="2224">25.68 (1.3M)</text><text x="1763" y="2224">25.67 (1.1M)</text><text x="1948" y="2224">25.54 (1.0M)</text>
 <text x="1577" y="2253">25.67 (421.5K)</text><text x="1763" y="2253">25.68 (205.3K)</text><text x="1948" y="2253">25.53 (161.2k)</text>
 <text x="1577" y="2284">25.37 (335.9K)</text><text x="1763" y="2284">25.53 (119.8K)</text><text x="1948" y="2284">25.22 (75.7K)</text>
</g>
<rect x="1671" y="2234" width="185" height="27" fill="none" stroke="#f00" stroke-width="3"/>

<!-- ============ RIGHT COLUMN ============ -->
<circle cx="2348" cy="333" r="5" fill="#3b4856"/>
<text class="h" x="2389" y="346" textLength="612">Singular Value Decomposition (SVD)</text>
<text class="b" x="2389" y="386" textLength="963">- The LUT maintains its performance with up to eight singular values</text>
<text class="b" x="2389" y="423" textLength="1007">- The bilateral grid experiences  a performance drop from the beginning.</text>
<text class="b" x="2389" y="463" textLength="911">- We decide to apply SVD to the LUT but not to the bilateral grid.</text>
<!-- SVD diagram -->
<text class="d" x="2492" y="492" text-anchor="middle" font-size="16">LUT</text>
<text class="d" x="2492" y="516" text-anchor="middle" font-size="16">generator <tspan font-style="italic">H</tspan><tspan font-size="11" dy="4" font-style="italic">t</tspan><tspan dy="-4">(·)</tspan></text>
<rect x="2461" y="526" width="64" height="133" rx="10" fill="#fff" stroke="#000" stroke-width="3"/>
<rect x="2472" y="531" width="18" height="124" fill="#a9d18e" stroke="#6e8f5a"/>
<rect x="2501" y="572" width="18" height="42" fill="#a9d18e" stroke="#6e8f5a"/>
<line x1="2525" y1="592" x2="2561" y2="592" stroke="#000" stroke-width="2" marker-end="url(#a)"/>
<rect x="2563" y="493" width="262" height="181" rx="22" fill="none" stroke="#000" stroke-width="2.5" stroke-dasharray="8 5"/>
<text class="d" x="2697" y="512" text-anchor="middle" font-size="16">LUT Components</text>
<g class="d" font-size="14"><text x="2570" y="536">3 × 3 × <tspan font-style="italic">D</tspan><tspan font-size="9" dy="3">t</tspan><tspan dy="-3"> × </tspan><tspan font-style="italic">N</tspan><tspan font-size="9" dy="3">s</tspan></text>
<text x="2715" y="546">3 × 3 × <tspan font-style="italic">N</tspan><tspan font-size="9" dy="3">s</tspan><tspan dy="-3"> × </tspan><tspan font-style="italic">D</tspan><tspan font-size="9" dy="3">t</tspan></text>
<text x="2647" y="564">3 × 3 × <tspan font-style="italic">N</tspan><tspan font-size="9" dy="3">s</tspan></text></g>
<rect x="2599" y="542" width="33" height="94" fill="url(#gu)"/>
<rect x="2666" y="572" width="34" height="34" fill="#fff" stroke="#555"/>
<line x1="2669" y1="575" x2="2696" y2="603" stroke="#6a9a7a" stroke-width="3"/>
<rect x="2733" y="571" width="83" height="34" fill="url(#gv)"/>
<g class="d" font-size="18" font-style="italic" text-anchor="middle"><text x="2650" y="594">·</text><text x="2717" y="594">·</text><text x="2615" y="654">U</text><text x="2682" y="626">S</text><text x="2774" y="624">V<tspan font-size="11" dy="-8">T</tspan></text></g>
<line x1="2825" y1="583" x2="2869" y2="583" stroke="#000" stroke-width="2" marker-end="url(#a)"/>
<rect x="2871" y="498" width="159" height="170" rx="22" fill="none" stroke="#000" stroke-width="2.5" stroke-dasharray="8 5"/>
<text class="d" x="2952" y="516" text-anchor="middle" font-size="16" font-style="italic">2D LUTs T<tspan font-size="10" dy="-7">2D</tspan></text>
<text class="d" x="2952" y="542" text-anchor="middle" font-size="14">3 × 3 × <tspan font-style="italic">D</tspan><tspan font-size="9" dy="3">t</tspan><tspan dy="-3"> × </tspan><tspan font-style="italic">D</tspan><tspan font-size="9" dy="3">t</tspan></text>
<polygon points="2902,594 2948,551 2948,623 2902,664" fill="#e06060" stroke="#b04040"/>
<polygon points="2910,592 2956,549 2956,625 2910,663" fill="url(#pgr)" stroke="#5d7d4a"/>
<polygon points="2947,594 2994,553 2994,627 2947,666" fill="url(#pbl)" stroke="#4a6f9f"/>
<text class="m" x="3092" y="552" font-size="38" fill="#111" textLength="242">U · S · V<tspan font-size="24" dy="-16">T</tspan><tspan dy="16"> = H</tspan><tspan font-size="24" dy="8">t</tspan><tspan dy="-8">(ρ)</tspan></text>
<text class="m" x="3100" y="632" font-size="38" fill="#111" textLength="220">T<tspan font-size="24" dy="-16">2D</tspan><tspan dy="16"> = U · S · V</tspan><tspan font-size="24" dy="-16">T</tspan></text>

<circle cx="2358" cy="719" r="5" fill="#3b4856"/>
<text class="h" x="2398" y="732" textLength="648">Cache-Effective Spatial Feature Fusion</text>
<text class="b" x="2398" y="773" textLength="1038">- Previous spatial feature fusion read high-resolution input and write high-</text>
<text class="b" x="2398" y="811" textLength="445">resolution intermediate outputs.</text>
<text class="b" x="2398" y="849" textLength="884">- We conduct slicing and LUT transformation at the same time.</text>
<!-- structure diagram -->
<line x1="2477" y1="869" x2="2477" y2="1135" stroke="#000" stroke-width="1.5"/>
<line x1="2383" y1="1045" x2="2774" y2="1045" stroke="#000" stroke-width="1.5"/>
<g fill="#9dc3e6" stroke="#e8f1fa" stroke-width="1.5">
 <rect x="2499" y="887" width="56" height="43"/><rect x="2494" y="892" width="56" height="43"/><rect x="2489" y="897" width="56" height="43"/>
 <rect x="2624" y="871" width="58" height="52"/><rect x="2619" y="876" width="58" height="52"/><rect x="2614" y="881" width="58" height="52"/><rect x="2609" y="886" width="58" height="52"/><rect x="2604" y="891" width="58" height="52"/><rect x="2599" y="896" width="58" height="52"/>
 <rect x="2603" y="976" width="54" height="42"/><rect x="2598" y="981" width="54" height="42"/><rect x="2593" y="986" width="54" height="42"/>
 <rect x="2721" y="967" width="55" height="45"/><rect x="2716" y="972" width="55" height="45"/><rect x="2711" y="977" width="55" height="45"/>
 <rect x="2499" y="1075" width="55" height="43"/><rect x="2494" y="1080" width="55" height="43"/><rect x="2489" y="1085" width="55" height="43"/>
 <rect x="2712" y="1075" width="55" height="43"/><rect x="2707" y="1080" width="55" height="43"/><rect x="2702" y="1085" width="55" height="43"/>
</g>
<g stroke="#000" stroke-width="1.5"><line x1="2546" y1="911" x2="2598" y2="911" marker-end="url(#a)"/><line x1="2627" y1="948" x2="2627" y2="976" marker-end="url(#a)"/><line x1="2648" y1="1003" x2="2710" y2="1003" marker-end="url(#a)"/><line x1="2545" y1="1099" x2="2701" y2="1099" marker-end="url(#a)"/></g>
<g class="d" font-size="12" text-anchor="middle">
 <text x="2426" y="936" font-size="15">Original</text><text x="2426" y="956" font-size="15">structure</text>
 <text x="2426" y="1081" font-size="15">Cache-</text><text x="2426" y="1100" font-size="15">effective</text><text x="2426" y="1121" font-size="15">structure</text>
 <text x="2530" y="875" font-style="italic">3 × W × H</text><text x="2657" y="870" font-style="italic">K × W × H</text>
 <text x="2577" y="889">Slicing</text><text x="2577" y="904" font-style="italic">O(·)</text>
 <text x="2517" y="914">Input</text><text x="2517" y="928">image <tspan font-style="italic">X</tspan></text>
 <text x="2628" y="918">Spatial</text><text x="2628" y="931">features</text><text x="2628" y="945" font-style="italic">f<tspan font-size="8" dy="3">s</tspan></text>
 <text x="2582" y="961">Fusion</text><text x="2582" y="977" font-style="italic">F(·)</text>
 <text x="2682" y="967">LUT</text><text x="2682" y="983">transform</text><text x="2682" y="999" font-style="italic">I(·)</text>
 <text x="2620" y="1003">Combined</text><text x="2620" y="1016">image <tspan font-style="italic">X̄</tspan></text>
 <text x="2738" y="1002">Output</text><text x="2738" y="1014">image <tspan font-style="italic">Y</tspan></text>
 <text x="2621" y="1041" font-style="italic">3 × W × H</text><text x="2735" y="1041" font-style="italic">3 × W × H</text>
 <text x="2529" y="1065" font-style="italic">3 × W × H</text><text x="2739" y="1065" font-style="italic">3 × W × H</text>
 <text x="2622" y="1077">Slicing &amp;</text><text x="2622" y="1092">LUT transform</text>
 <text x="2516" y="1102">Input</text><text x="2516" y="1116">image <tspan font-style="italic">X</tspan></text>
 <text x="2729" y="1106">Output</text><text x="2729" y="1119">image <tspan font-style="italic">Y</tspan></text>
</g>
<text class="m" x="2867" y="972" font-size="34" fill="#111" textLength="507">Y<tspan font-size="22" dy="8">(c,x,y)</tspan><tspan dy="-8"> = Transform</tspan><tspan font-size="22" dy="-12">c</tspan><tspan font-size="22" dx="-10" dy="20">2D</tspan><tspan dy="-8">(X</tspan><tspan font-size="22" dy="8">(c,x,y)</tspan><tspan dy="-8">, T</tspan><tspan font-size="22" dy="-14">2D</tspan><tspan dy="14">)</tspan></text>
<text class="m" x="2972" y="1040" font-size="34" fill="#111" textLength="428">+Σ<tspan font-size="18" dy="-20">k/3−1</tspan><tspan font-size="18" dx="-40" dy="30">K=0</tspan><tspan dy="-10"> Slicing</tspan><tspan font-size="22" dy="-14">c′k</tspan><tspan font-size="22" dx="-30" dy="22">2D</tspan><tspan dy="-8">(X</tspan><tspan font-size="22" dy="8">(c,x,y)</tspan><tspan dy="-8">, G</tspan><tspan font-size="22" dy="-14">2D</tspan><tspan dy="14">)</tspan></text>

<!-- Experimental Results -->
<rect x="2401" y="1159" width="948" height="64" fill="#dedede"/>
<text x="2875" y="1209" font-size="44" fill="#111" text-anchor="middle" textLength="426">Experimental Results</text>
<circle cx="2349" cy="1251" r="5" fill="#3b4856"/>
<text class="h" x="2392" y="1264" textLength="828">Quantitative comparison results on FiveK datasets</text>
<!-- results table -->
<g stroke="#555" stroke-width="2">
 <line x1="2385" y1="1285" x2="3390" y2="1285"/><line x1="2648" y1="1311" x2="3390" y2="1311"/><line x1="2385" y1="1336" x2="3390" y2="1336"/>
 <line x1="2385" y1="1613" x2="3390" y2="1613"/><line x1="3349" y1="1586" x2="3390" y2="1586"/>
 <line x1="2561" y1="1285" x2="2561" y2="1613"/><line x1="2648" y1="1285" x2="2648" y2="1613"/><line x1="3019" y1="1311" x2="3019" y2="1613"/>
</g>
<g class="t" text-anchor="middle">
 <text x="2472" y="1315">Method</text><text x="2604" y="1315">#param</text><text x="2834" y="1304">480p</text><text x="3205" y="1304">Full Resolution (4K)</text>
 <text x="2688" y="1328">PSNR</text><text x="2763" y="1328">SSIM</text><text x="2837" y="1328">Δ<tspan font-style="italic">E</tspan><tspan font-size="14" dy="4" font-style="italic">ab</tspan></text><text x="2947" y="1328">Runtime (<tspan font-style="italic">ms</tspan>)</text>
 <text x="3059" y="1328">PSNR</text><text x="3134" y="1328">SSIM</text><text x="3208" y="1328">Δ<tspan font-style="italic">E</tspan><tspan font-size="14" dy="4" font-style="italic">ab</tspan></text><text x="3318" y="1328">Runtime (<tspan font-style="italic">ms</tspan>)</text>
</g>
<g class="t" text-anchor="middle">
 <g><text x="2472" y="1355">UPE <tspan fill="#3b6fb6">[37]</tspan></text><text x="2604" y="1355">927.1K</text><text x="2688" y="1355">21.88</text><text x="2763" y="1355">0.853</text><text x="2837" y="1355">10.80</text><text x="2947" y="1355">4.27</text><text x="3059" y="1355">21.65</text><text x="3134" y="1355">0.859</text><text x="3208" y="1355">11.09</text><text x="3318" y="1355">56.88</text></g>
 <g><text x="2472" y="1380">DPE <tspan fill="#3b6fb6">[9]</tspan></text><text x="2604" y="1380">3.4M</text><text x="2688" y="1380">23.75</text><text x="2763" y="1380">0.908</text><text x="2837" y="1380">9.34</text><text x="2947" y="1380">7.21</text><text x="3059" y="1380">-</text><text x="3134" y="1380">-</text><text x="3208" y="1380">-</text><text x="3318" y="1380">-</text></g>
 <g><text x="2472" y="1405">HDRNet <tspan fill="#3b6fb6">[12]</tspan></text><text x="2604" y="1405">483.1K</text><text x="2688" y="1405">24.66</text><text x="2763" y="1405">0.915</text><text x="2837" y="1405">8.06</text><text x="2947" y="1405">3.49</text><text x="3059" y="1405">24.52</text><text x="3134" y="1405">0.921</text><text x="3208" y="1405">8.20</text><text x="3318" y="1405">56.07</text></g>
 <g><text x="2472" y="1429">DeepLPF <tspan fill="#3b6fb6">[33]</tspan></text><text x="2604" y="1429">1.7M</text><text x="2688" y="1429">24.73</text><text x="2763" y="1429">0.916</text><text x="2837" y="1429">7.99</text><text x="2947" y="1429">32.12</text><text x="3059" y="1429">-</text><text x="3134" y="1429">-</text><text x="3208" y="1429">-</text><text x="3318" y="1429">-</text></g>
 <g><text x="2472" y="1454">CSRNet <tspan fill="#3b6fb6">[13]</tspan></text><text x="2604" y="1454">36.4K</text><text x="2688" y="1454">25.19</text><text x="2763" y="1454">0.925</text><text x="2837" y="1454">7.76</text><text x="2947" y="1454">3.09</text><text x="3059" y="1454">24.82</text><text x="3134" y="1454">0.924</text><text x="3208" y="1454">7.94</text><text x="3318" y="1454">77.10</text></g>
 <g><text x="2472" y="1479">3D LUT <tspan fill="#3b6fb6">[46]</tspan></text><text x="2604" y="1479">593.5K</text><text x="2688" y="1479">25.29</text><text x="2763" y="1479">0.923</text><text x="2837" y="1479">7.55</text><text x="2947" y="1479">1.02</text><text x="3059" y="1479">25.25</text><text x="3134" y="1479">0.932</text><text x="3208" y="1479">7.59</text><text x="3318" y="1479">1.04</text></g>
 <g><text x="2472" y="1504">SA-3DLUT* <tspan fill="#3b6fb6">[38]</tspan></text><text x="2604" y="1504">4.5M</text><text x="2688" y="1504">25.50</text><text x="2763" y="1504">/</text><text x="2837" y="1504">/</text><text x="2947" y="1504">2.27</text><text x="3059" y="1504">/</text><text x="3134" y="1504">/</text><text x="3208" y="1504">/</text><text x="3318" y="1504">4.39</text></g>
 <g><text x="2472" y="1529">SepLUT* <tspan fill="#3b6fb6">[44]</tspan></text><text x="2604" y="1529">119.8K</text><text x="2688" y="1529">25.47</text><text x="2763" y="1529">0.921</text><text x="2837" y="1529">7.54</text><text x="2947" y="1529">1.10</text><text x="3059" y="1529">25.43</text><text x="3134" y="1529">0.932</text><text x="3208" y="1529">7.56</text><text x="3318" y="1529">1.20</text></g>
 <g><text x="2472" y="1554">AdaInt <tspan fill="#3b6fb6">[43]</tspan></text><text x="2604" y="1554">619.7K</text><text x="2688" y="1554">25.49</text><text x="2763" y="1554">0.926</text><text x="2837" y="1554">7.47</text><text x="2947" y="1554">1.29</text><text x="3059" y="1554">25.48</text><text x="3134" y="1554">0.934</text><text x="3208" y="1554" fill="#00f">7.45</text><text x="3318" y="1554">1.59</text></g>
 <g><text x="2472" y="1579">SABLUT <tspan fill="#3b6fb6">[22]</tspan></text><text x="2604" y="1579">463.7K</text><text x="2688" y="1579" fill="#00f">25.66</text><text x="2763" y="1579" fill="#00f">0.930</text><text x="2837" y="1579" fill="#00f">7.29</text><text x="2947" y="1579">1.20</text><text x="3059" y="1579" fill="#00f">25.66</text><text x="3134" y="1579" fill="#00f">0.937</text><text x="3208" y="1579" fill="#f00">7.27</text><text x="3318" y="1579">3.64</text></g>
 <g><text x="2472" y="1605">Ours</text><text x="2604" y="1605">160.5K</text><text x="2688" y="1605" fill="#f00">25.76</text><text x="2763" y="1605" fill="#f00">0.931</text><text x="2837" y="1605" fill="#f00">7.26</text><text x="2947" y="1605">1.37</text><text x="3059" y="1605" fill="#f00">25.69</text><text x="3134" y="1605" fill="#f00">0.938</text><text x="3208" y="1605" fill="#f00">7.27</text><text x="3318" y="1605">1.38</text></g>
</g>
<g fill="none" stroke="#f00" stroke-width="3"><rect x="2382" y="1482" width="967" height="26"/><rect x="2382" y="1559" width="967" height="26"/><rect x="2382" y="1587" width="967" height="26"/></g>
<text class="b" x="2392" y="1668" textLength="1044">- We alleviate the intrinsic problems of the spatial-aware LUT method, the</text>
<text class="b" x="2392" y="1706" textLength="743">tremendous model size, and the long inference time.</text>
<circle cx="2349" cy="1739" r="5" fill="#3b4856"/>
<text class="h" x="2392" y="1752" textLength="395">Qualitative comparisons</text>

<!-- qualitative grid -->
<g class="k" text-anchor="middle" font-size="13"><text x="2472" y="1774">Input</text><text x="2637" y="1774">3DLUT</text><text x="2803" y="1774">AdaInt</text><text x="2967" y="1774">SABLUT</text><text x="3132" y="1774">Ours</text><text x="3297" y="1774">GT</text></g>
<!-- row 1 water -->
<g>
 <use href="#wm" x="2395" y="1778" width="156" height="106"/><use href="#wm" x="2560" y="1778" width="156" height="106"/><use href="#wm" x="2725" y="1778" width="156" height="106"/><use href="#wm" x="2889" y="1778" width="156" height="106"/><use href="#wm" x="3055" y="1778" width="156" height="106"/><use href="#wm" x="3220" y="1778" width="156" height="106"/>
 <use href="#wc" x="2395" y="1884" width="78" height="51"/><use href="#wc" x="2473" y="1884" width="78" height="51"/><use href="#wc" x="2560" y="1884" width="78" height="51"/><use href="#wc" x="2638" y="1884" width="78" height="51"/><use href="#wc" x="2725" y="1884" width="78" height="51"/><use href="#wc" x="2803" y="1884" width="78" height="51"/><use href="#wc" x="2889" y="1884" width="78" height="51"/><use href="#wc" x="2967" y="1884" width="78" height="51"/><use href="#wc" x="3055" y="1884" width="78" height="51"/><use href="#wc" x="3133" y="1884" width="78" height="51"/><use href="#wc" x="3220" y="1884" width="78" height="51"/><use href="#wc" x="3298" y="1884" width="78" height="51"/>
 <rect x="2395" y="1778" width="156" height="157" fill="#8a8378" opacity=".4"/>
 <rect x="2654" y="1778" width="62" height="42" fill="#33b5f0"/><rect x="2819" y="1778" width="62" height="42" fill="#1a48e8"/><rect x="2983" y="1778" width="62" height="42" fill="#2aa8f5"/><rect x="3149" y="1778" width="62" height="42" fill="#0a14a8"/>
</g>
<!-- row 2 street -->
<g>
 <use href="#sm" x="2395" y="1938" width="156" height="106"/><use href="#sm" x="2560" y="1938" width="156" height="106"/><use href="#sm" x="2725" y="1938" width="156" height="106"/><use href="#sm" x="2889" y="1938" width="156" height="106"/><use href="#sm" x="3055" y="1938" width="156" height="106"/><use href="#sm" x="3220" y="1938" width="156" height="106"/>
 <use href="#sc1" x="2395" y="2044" width="78" height="52"/><use href="#sc2" x="2473" y="2044" width="78" height="52"/><use href="#sc1" x="2560" y="2044" width="78" height="52"/><use href="#sc2" x="2638" y="2044" width="78" height="52"/><use href="#sc1" x="2725" y="2044" width="78" height="52"/><use href="#sc2" x="2803" y="2044" width="78" height="52"/><use href="#sc1" x="2889" y="2044" width="78" height="52"/><use href="#sc2" x="2967" y="2044" width="78" height="52"/><use href="#sc1" x="3055" y="2044" width="78" height="52"/><use href="#sc2" x="3133" y="2044" width="78" height="52"/><use href="#sc1" x="3220" y="2044" width="78" height="52"/><use href="#sc2" x="3298" y="2044" width="78" height="52"/>
 <rect x="2395" y="1938" width="156" height="158" fill="#000" opacity=".12"/>
 <rect x="2654" y="1938" width="62" height="42" fill="#1a60e0"/><ellipse cx="2690" cy="1955" rx="14" ry="10" fill="#e0e040" opacity=".8"/><ellipse cx="2670" cy="1970" rx="12" ry="6" fill="#30d0f0"/>
 <rect x="2819" y="1938" width="62" height="42" fill="#1a50e0"/><ellipse cx="2850" cy="1955" rx="12" ry="9" fill="#60e0a0" opacity=".8"/>
 <rect x="2983" y="1938" width="62" height="42" fill="#1030d8"/><ellipse cx="3012" cy="1957" rx="12" ry="9" fill="#40c0f0" opacity=".8"/>
 <rect x="3149" y="1938" width="62" height="42" fill="#1a40e0"/><ellipse cx="3180" cy="1957" rx="12" ry="9" fill="#40b8f0" opacity=".7"/>
</g>
<!-- row 3 boats -->
<g>
 <use href="#bm" x="2395" y="2099" width="156" height="106"/><use href="#bm" x="2560" y="2099" width="156" height="106"/><use href="#bm" x="2725" y="2099" width="156" height="106"/><use href="#bm" x="2889" y="2099" width="156" height="106"/><use href="#bm" x="3055" y="2099" width="156" height="106"/><use href="#bm" x="3220" y="2099" width="156" height="106"/>
 <use href="#bc1" x="2395" y="2205" width="78" height="52"/><use href="#bc2" x="2473" y="2205" width="78" height="52"/><use href="#bc1" x="2560" y="2205" width="78" height="52"/><use href="#bc2" x="2638" y="2205" width="78" height="52"/><use href="#bc1" x="2725" y="2205" width="78" height="52"/><use href="#bc2" x="2803" y="2205" width="78" height="52"/><use href="#bc1" x="2889" y="2205" width="78" height="52"/><use href="#bc2" x="2967" y="2205" width="78" height="52"/><use href="#bc1" x="3055" y="2205" width="78" height="52"/><use href="#bc2" x="3133" y="2205" width="78" height="52"/><use href="#bc1" x="3220" y="2205" width="78" height="52"/><use href="#bc2" x="3298" y="2205" width="78" height="52"/>
 <rect x="2395" y="2099" width="156" height="158" fill="#000" opacity=".15"/>
 <rect x="2654" y="2099" width="62" height="42" fill="#40b0e0"/><rect x="2660" y="2120" width="20" height="16" fill="#e8e040"/>
 <rect x="2819" y="2099" width="62" height="42" fill="#1a50e8"/><rect x="2830" y="2120" width="18" height="14" fill="#40d8e0"/>
 <rect x="2983" y="2099" width="62" height="42" fill="#1a60e8"/><rect x="2995" y="2120" width="18" height="14" fill="#d8e040"/>
 <rect x="3149" y="2099" width="62" height="42" fill="#2050e8"/><rect x="3160" y="2120" width="18" height="14" fill="#50c8f0"/>
</g>
<!-- borders & markers -->
<g fill="none" stroke-width="2">
 <g stroke="#2020e0">
  <rect x="2396" y="1885" width="76" height="49"/><rect x="2561" y="1885" width="76" height="49"/><rect x="2726" y="1885" width="76" height="49"/><rect x="2890" y="1885" width="76" height="49"/><rect x="3056" y="1885" width="76" height="49"/><rect x="3221" y="1885" width="76" height="49"/>
  <rect x="2396" y="2045" width="76" height="50"/><rect x="2561" y="2045" width="76" height="50"/><rect x="2726" y="2045" width="76" height="50"/><rect x="2890" y="2045" width="76" height="50"/><rect x="3056" y="2045" width="76" height="50"/><rect x="3221" y="2045" width="76" height="50"/>
  <rect x="2396" y="2206" width="76" height="50"/><rect x="2561" y="2206" width="76" height="50"/><rect x="2726" y="2206" width="76" height="50"/><rect x="2890" y="2206" width="76" height="50"/><rect x="3056" y="2206" width="76" height="50"/><rect x="3221" y="2206" width="76" height="50"/>
  <rect x="2411" y="1823" width="27" height="17"/><rect x="2576" y="1823" width="27" height="17"/><rect x="2741" y="1823" width="27" height="17"/><rect x="2905" y="1823" width="27" height="17"/><rect x="3071" y="1823" width="27" height="17"/><rect x="3236" y="1823" width="27" height="17"/>
  <rect x="2406" y="1949" width="29" height="21"/><rect x="2571" y="1949" width="29" height="21"/><rect x="2736" y="1949" width="29" height="21"/><rect x="2900" y="1949" width="29" height="21"/><rect x="3066" y="1949" width="29" height="21"/><rect x="3231" y="1949" width="29" height="21"/>
  <rect x="2405" y="2132" width="19" height="12"/><rect x="2570" y="2132" width="19" height="12"/><rect x="2735" y="2132" width="19" height="12"/><rect x="2899" y="2132" width="19" height="12"/><rect x="3065" y="2132" width="19" height="12"/><rect x="3230" y="2132" width="19" height="12"/>
 </g>
 <g stroke="#e02020">
  <rect x="2474" y="1885" width="76" height="49"/><rect x="2639" y="1885" width="76" height="49"/><rect x="2804" y="1885" width="76" height="49"/><rect x="2968" y="1885" width="76" height="49"/><rect x="3134" y="1885" width="76" height="49"/><rect x="3299" y="1885" width="76" height="49"/>
  <rect x="2474" y="2045" width="76" height="50"/><rect x="2639" y="2045" width="76" height="50"/><rect x="2804" y="2045" width="76" height="50"/><rect x="2968" y="2045" width="76" height="50"/><rect x="3134" y="2045" width="76" height="50"/><rect x="3299" y="2045" width="76" height="50"/>
  <rect x="2474" y="2206" width="76" height="50"/><rect x="2639" y="2206" width="76" height="50"/><rect x="2804" y="2206" width="76" height="50"/><rect x="2968" y="2206" width="76" height="50"/><rect x="3134" y="2206" width="76" height="50"/><rect x="3299" y="2206" width="76" height="50"/>
  <rect x="2482" y="1848" width="27" height="18"/><rect x="2647" y="1848" width="27" height="18"/><rect x="2812" y="1848" width="27" height="18"/><rect x="2976" y="1848" width="27" height="18"/><rect x="3142" y="1848" width="27" height="18"/><rect x="3307" y="1848" width="27" height="18"/>
  <rect x="2484" y="1994" width="29" height="19"/><rect x="2649" y="1994" width="29" height="19"/><rect x="2814" y="1994" width="29" height="19"/><rect x="2978" y="1994" width="29" height="19"/><rect x="3144" y="1994" width="29" height="19"/><rect x="3309" y="1994" width="29" height="19"/>
  <rect x="2470" y="2166" width="19" height="12"/><rect x="2635" y="2166" width="19" height="12"/><rect x="2800" y="2166" width="19" height="12"/><rect x="2964" y="2166" width="19" height="12"/><rect x="3130" y="2166" width="19" height="12"/><rect x="3295" y="2166" width="19" height="12"/>
 </g>
</g>
<rect x="3389" y="1780" width="12" height="152" fill="url(#jet)"/>
<rect x="3389" y="1940" width="12" height="153" fill="url(#jet)"/>
<rect x="3389" y="2101" width="12" height="152" fill="url(#jet)"/>
<text x="2898" y="2296" font-size="32" fill="#3b4856" text-anchor="middle" textLength="714">Check out our paper for more detailed information!</text>
</svg>
</body></html>
